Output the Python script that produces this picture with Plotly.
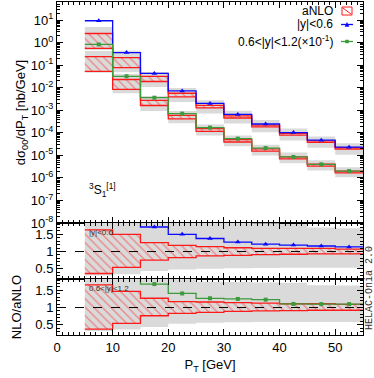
import plotly.graph_objects as go
from plotly.subplots import make_subplots

# pT bins [GeV]
pt_edges = [5, 10, 15, 20, 25, 30, 35, 40, 45, 50, 55]
pt_centres = [7.5, 12.5, 17.5, 22.5, 27.5, 32.5, 37.5, 42.5, 47.5, 52.5]

# |y|<0.6 : NLO central and aNLO central [nb/GeV]
nlo_y1 = [9.3, 0.36, 0.043, 0.0072, 0.0020, 6.5e-4, 2.45e-4, 1.02e-4, 4.7e-5, 2.3e-5]
anlo_y1 = [1.55, 0.144, 0.0251, 0.0048, 0.00145, 5.1e-4, 2.02e-4, 8.6e-5, 4.05e-5, 2.03e-5]
# 0.6<|y|<1.2 : unscaled (drawn x 1e-1)
nlo_y2 = [8.3, 0.32, 0.036, 0.0071, 0.0017, 5.5e-4, 2.1e-4, 8.5e-5, 4.0e-5, 2.0e-5]
anlo_y2 = [1.43, 0.157, 0.0214, 0.00504, 0.00134, 4.4e-4, 1.71e-4, 7.7e-5, 3.64e-5, 1.82e-5]
y2_scale = 0.1

# aNLO uncertainty band relative to aNLO central
anlo_hi_y1 = [1.63, 1.50, 1.26, 1.18, 1.14, 1.11, 1.09, 1.09, 1.09, 1.07]
anlo_lo_y1 = [0.36, 0.54, 0.75, 0.82, 0.875, 0.89, 0.91, 0.92, 0.93, 0.93]
anlo_hi_y2 = [1.66, 1.47, 1.27, 1.17, 1.16, 1.14, 1.13, 1.11, 1.11, 1.09]
anlo_lo_y2 = [0.37, 0.54, 0.76, 0.83, 0.86, 0.89, 0.90, 0.91, 0.92, 0.92]

# NLO uncertainty band relative to aNLO central
nlo_hi_y1 = [3.2, 3.0, 2.0, 2.0, 1.9, 1.85, 1.82, 1.8, 1.70, 1.68]
nlo_lo_y1 = [0.30, 0.34, 0.43, 0.48, 0.50, 0.51, 0.52, 0.53, 0.53, 0.53]
nlo_hi_y2 = [3.0, 2.6, 2.0, 1.85, 1.75, 1.74, 1.73, 1.72, 1.65, 1.64]
nlo_lo_y2 = [0.32, 0.36, 0.43, 0.53, 0.56, 0.57, 0.575, 0.58, 0.58, 0.58]

log_tickvals = [1e-8, 1e-7, 1e-6, 1e-5, 1e-4, 1e-3, 1e-2, 1e-1, 1e0, 1e1]
log_ticktext = ["10<sup>-8</sup>", "10<sup>-7</sup>", "10<sup>-6</sup>", "10<sup>-5</sup>",
                "10<sup>-4</sup>", "10<sup>-3</sup>", "10<sup>-2</sup>", "10<sup>-1</sup>",
                "10<sup>0</sup>", "10<sup>1</sup>"]
ratio_tickvals = [0.5, 1, 1.5]
ratio_ticktext = ["0.5", "1", "1.5"]
x_tickvals = [0, 10, 20, 30, 40, 50]

BLUE = "#0a0aff"
GREEN = "#3d9a3d"
RED = "#ff1a1a"
GRAY = "#dadada"
FONT = "Liberation Sans, Arial, sans-serif"


def steps(vals):
    # repeat last value so the hv step reaches the last bin edge
    return list(vals) + [vals[-1]]


def band(fig, lo, hi, row, hatched):
    if hatched:
        line = dict(color=RED, width=1.3, shape="hv")
    else:
        line = dict(width=0, shape="hv")
    fig.add_trace(go.Scatter(x=pt_edges, y=steps(lo), mode="lines", line=line,
                             showlegend=False, hoverinfo="skip"), row=row, col=1)
    kw = dict(fill="tonexty")
    if hatched:
        kw["fillcolor"] = "rgba(255,120,120,0.15)"
        kw["fillpattern"] = dict(shape="\\", fgcolor="rgba(255,30,30,0.9)",
                                 bgcolor="rgba(255,255,255,0)", size=6, solidity=0.22,
                                 fillmode="overlay")
    else:
        kw["fillcolor"] = GRAY
    fig.add_trace(go.Scatter(x=pt_edges, y=steps(hi), mode="lines", line=line,
                             showlegend=False, hoverinfo="skip", **kw), row=row, col=1)


def central(fig, vals, row, color, symbol, size):
    fig.add_trace(go.Scatter(x=pt_edges, y=steps(vals), mode="lines",
                             line=dict(color=color, width=1.3, shape="hv"),
                             showlegend=False, hoverinfo="skip"), row=row, col=1)
    fig.add_trace(go.Scatter(x=pt_centres, y=vals, mode="markers",
                             marker=dict(color=color, symbol=symbol, size=size),
                             showlegend=False), row=row, col=1)


fig = make_subplots(rows=3, cols=1, shared_xaxes=True, vertical_spacing=0,
                    row_heights=[221, 56, 56])

series = [
    (nlo_y1, anlo_y1, anlo_lo_y1, anlo_hi_y1, nlo_lo_y1, nlo_hi_y1, 1.0, BLUE, "triangle-up", 5, 2),
    (nlo_y2, anlo_y2, anlo_lo_y2, anlo_hi_y2, nlo_lo_y2, nlo_hi_y2, y2_scale, GREEN, "square", 4, 3),
]

# top panel: gray NLO bands, then hatched aNLO bands, then NLO lines
for nlo, anlo, alo, ahi, nlo_lo, nlo_hi, sc, *_ in series:
    band(fig, [a * r * sc for a, r in zip(anlo, nlo_lo)],
         [a * r * sc for a, r in zip(anlo, nlo_hi)], 1, False)
for nlo, anlo, alo, ahi, nlo_lo, nlo_hi, sc, *_ in series:
    band(fig, [a * r * sc for a, r in zip(anlo, alo)],
         [a * r * sc for a, r in zip(anlo, ahi)], 1, True)
for nlo, anlo, alo, ahi, nlo_lo, nlo_hi, sc, color, sym, size, _ in series:
    central(fig, [v * sc for v in nlo], 1, color, sym, size)

# ratio panels
for nlo, anlo, alo, ahi, nlo_lo, nlo_hi, sc, color, sym, size, row in series:
    band(fig, nlo_lo, nlo_hi, row, False)
    band(fig, alo, ahi, row, True)
    fig.add_shape(type="line", xref="x domain", yref=f"y{row}", x0=0, x1=1, y0=1, y1=1,
                  line=dict(color="black", width=1, dash="dash"))
    central(fig, [n / a for n, a in zip(nlo, anlo)], row, color, sym, size)

axis_common = dict(showline=True, linecolor="black", linewidth=1, mirror="allticks",
                   ticks="inside", showgrid=False, zeroline=False,
                   tickfont=dict(size=13, color="black"), tickcolor="black")

fig.update_xaxes(range=[0, 55], tickvals=x_tickvals, ticklen=6,
                 minor=dict(ticks="inside", dtick=1, ticklen=3, tickcolor="black"),
                 **axis_common)
fig.update_xaxes(title=dict(text="P<sub>T</sub> [GeV]", font=dict(size=13), standoff=6),
                 row=3, col=1)

fig.update_yaxes(type="log", range=[-8, 1.8], tickvals=log_tickvals, ticktext=log_ticktext,
                 ticklen=6, minor=dict(ticks="inside", dtick="D1", ticklen=3, tickcolor="black"),
                 title=dict(text="dσ<sub>00</sub>/dP<sub>T</sub> [nb/GeV]", font=dict(size=13),
                            standoff=2),
                 row=1, col=1, **axis_common)
for row in (2, 3):
    fig.update_yaxes(range=[0.2, 1.83], tickvals=ratio_tickvals, ticktext=ratio_ticktext,
                     ticklen=6, minor=dict(ticks="inside", dtick=0.1, ticklen=3,
                                           tickcolor="black"),
                     row=row, col=1, **axis_common)
fig.update_yaxes(title=dict(text="NLO/aNLO", font=dict(size=13), standoff=10), row=3, col=1)

# legend drawn gnuplot style: text on the left, key on the right
def px_x(p):
    return (p - 57) / 306.0


def px_y(p):
    return (335 - p) / 333.0


legend_rows = [("aNLO", 11), ("|y|<0.6", 24.5), ("0.6<|y|<1.2(×10<sup>-1</sup>)", 41)]
for text, py in legend_rows:
    fig.add_annotation(text=text, xref="paper", yref="paper", x=px_x(335), y=px_y(py),
                       xanchor="right", yanchor="middle", showarrow=False,
                       font=dict(size=12, color="black", family=FONT))
fig.add_shape(type="rect", xref="paper", yref="paper", x0=px_x(342), x1=px_x(352),
              y0=px_y(7), y1=px_y(15), line=dict(color=RED, width=1))
fig.add_shape(type="line", xref="paper", yref="paper", x0=px_x(343), x1=px_x(351),
              y0=px_y(8), y1=px_y(14), line=dict(color=RED, width=1))
fig.add_shape(type="line", xref="paper", yref="paper", x0=px_x(341), x1=px_x(353),
              y0=px_y(24.5), y1=px_y(24.5), line=dict(color=BLUE, width=1.3))
fig.add_shape(type="path", xref="paper", yref="paper",
              path=f"M {px_x(345)} {px_y(26.5)} L {px_x(349)} {px_y(26.5)} L {px_x(347)} {px_y(22.5)} Z",
              fillcolor=BLUE, line=dict(color=BLUE, width=0.5))
fig.add_shape(type="line", xref="paper", yref="paper", x0=px_x(341), x1=px_x(353),
              y0=px_y(41.5), y1=px_y(41.5), line=dict(color=GREEN, width=1.3))
fig.add_shape(type="rect", xref="paper", yref="paper", x0=px_x(345.5), x1=px_x(348.5),
              y0=px_y(43), y1=px_y(40), fillcolor=GREEN, line=dict(color=GREEN, width=0.5))

fig.add_annotation(text="<sup>3</sup>S<sub>1</sub><sup>[1]</sup>", xref="paper", yref="paper",
                   x=px_x(87), y=px_y(190), xanchor="left", yanchor="middle", showarrow=False,
                   font=dict(size=12, color="black", family=FONT))
fig.add_annotation(text="|y|<0.6", xref="paper", yref="paper", x=px_x(87), y=px_y(232),
                   xanchor="left", yanchor="middle", showarrow=False,
                   font=dict(size=8, color="#333333", family=FONT))
fig.add_annotation(text="0.6<|y|<1.2", xref="paper", yref="paper", x=px_x(87), y=px_y(288.5),
                   xanchor="left", yanchor="middle", showarrow=False,
                   font=dict(size=8, color="#333333", family=FONT))
fig.add_annotation(text="HELAC-Onia 2.0", xref="paper", yref="paper", x=px_x(369), y=px_y(288),
                   xanchor="center", yanchor="middle", textangle=-90, showarrow=False,
                   font=dict(size=10, color="#333333", family="Liberation Mono, monospace"))

fig.update_layout(
    width=374, height=378,
    margin=dict(l=57, r=11, t=2, b=43),
    plot_bgcolor="white", paper_bgcolor="white",
    font=dict(family=FONT, color="black", size=13),
    showlegend=False,
)

# the page body has a default 8px margin; drop it so the figure sits at the window origin
fig.write_html("out.html", config={"displayModeBar": False},
               post_script="document.body.style.margin='0';")
